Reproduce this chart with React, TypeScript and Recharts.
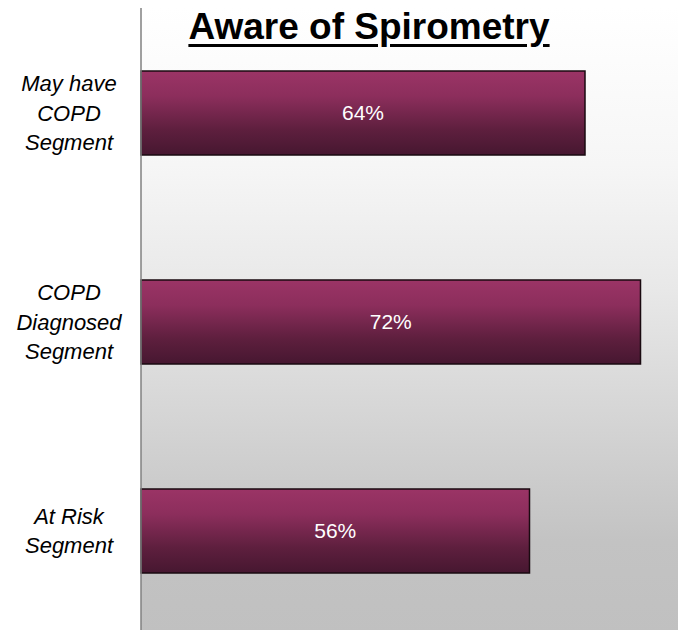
import { BarChart, Bar, XAxis, YAxis, CartesianGrid, LabelList } from 'recharts';

const segments = ['May have COPD Segment', 'COPD Diagnosed Segment', 'At Risk Segment'];
const tickLines = [
  ['May have', 'COPD', 'Segment'],
  ['COPD', 'Diagnosed', 'Segment'],
  ['At Risk', 'Segment'],
];
const aware = [64, 72, 56];

const data = segments.map((name, i) => ({ name, aware: aware[i] }));

const SegmentTick = (props: any) => {
  const { y, index } = props;
  const lines = tickLines[index] || [];
  const lh = 29.5;
  const first = y - ((lines.length - 1) * lh) / 2 + 8;
  return (
    <text
      x={69}
      y={first}
      textAnchor="middle"
      fontSize={22}
      fontStyle="italic"
      fontFamily="'Liberation Sans', Arial, sans-serif"
      fill="#000"
    >
      {lines.map((l, i) => (
        <tspan key={i} x={69} y={first + i * lh}>
          {l}
        </tspan>
      ))}
    </text>
  );
};

export default function App() {
  return (
    <div
      style={{
        position: 'absolute',
        left: 0,
        top: 0,
        width: 678,
        height: 630,
        overflow: 'hidden',
        background: '#fff',
        fontFamily: "'Liberation Sans', Arial, sans-serif",
      }}
    >
      <BarChart
        width={696}
        height={635}
        data={data}
        layout="vertical"
        margin={{ top: 8, right: 0, bottom: 0, left: 0 }}
        barSize={84}
      >
        <defs>
          <linearGradient id="bgFill" x1="0" y1="0" x2="0" y2="1">
            <stop offset="0" stopColor="#ffffff" />
            <stop offset="0.25" stopColor="#f6f6f6" />
            <stop offset="0.45" stopColor="#e8e8e8" />
            <stop offset="0.62" stopColor="#d8d8d8" />
            <stop offset="0.85" stopColor="#c3c3c3" />
            <stop offset="1" stopColor="#c0c0c0" />
          </linearGradient>
          <linearGradient id="barFill" x1="0" y1="0" x2="0" y2="1">
            <stop offset="0" stopColor="#9b3466" />
            <stop offset="0.3" stopColor="#8c2e5c" />
            <stop offset="0.7" stopColor="#5e1f3e" />
            <stop offset="1" stopColor="#461730" />
          </linearGradient>
        </defs>
        <CartesianGrid fill="url(#bgFill)" horizontal={false} vertical={false} />
        <XAxis type="number" domain={[0, 80]} hide />
        <YAxis
          type="category"
          dataKey="name"
          width={141}
          tickLine={false}
          axisLine={{ stroke: '#808080', strokeWidth: 1.5 }}
          tick={<SegmentTick />}
          interval={0}
        />
        <Bar dataKey="aware" fill="url(#barFill)" stroke="#1a0a10" strokeWidth={1.5} isAnimationActive={false}>
          <LabelList
            dataKey="aware"
            position="center"
            fill="#ffffff"
            fontSize={21}
            formatter={(v: any) => `${v}%`}
          />
        </Bar>
      </BarChart>
      <div
        style={{
          position: 'absolute',
          left: 0,
          width: 738,
          top: 6,
          textAlign: 'center',
          fontSize: 37,
          fontWeight: 'bold',
          textDecoration: 'underline',
          textUnderlineOffset: 5,
          color: '#000',
          lineHeight: '42px',
        }}
      >
        Aware of Spirometry
      </div>
    </div>
  );
}
